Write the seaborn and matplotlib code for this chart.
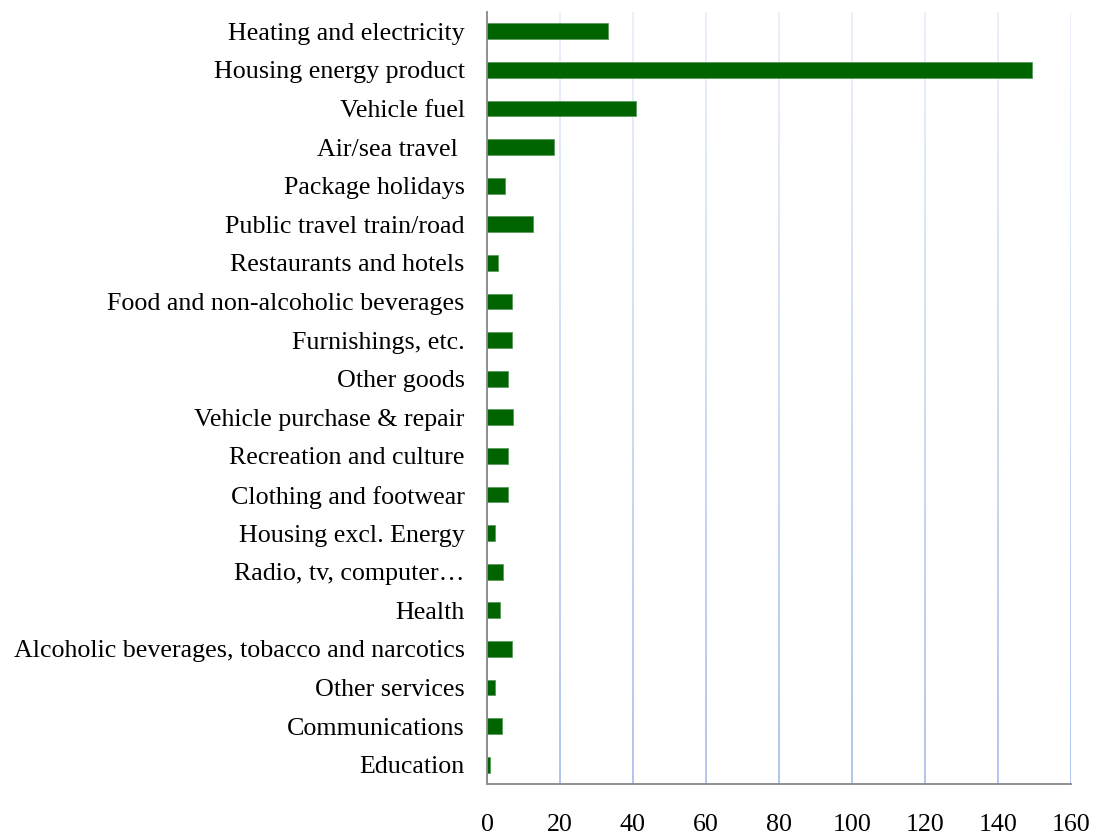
import matplotlib
matplotlib.use("Agg")
import matplotlib.pyplot as plt
import seaborn as sns
import pandas as pd
import numpy as np

categories = [
    "Heating and electricity",
    "Housing energy product",
    "Vehicle fuel",
    "Air/sea travel ",
    "Package holidays",
    "Public travel train/road",
    "Restaurants and hotels",
    "Food and non-alcoholic beverages",
    "Furnishings, etc.",
    "Other goods",
    "Vehicle purchase & repair",
    "Recreation and culture",
    "Clothing and footwear",
    "Housing excl. Energy",
    "Radio, tv, computer\u2026",
    "Health",
    "Alcoholic beverages, tobacco and narcotics",
    "Other services",
    "Communications",
    "Education",
]
values = [33.2, 149.3, 40.8, 18.4, 4.8, 12.5, 3.1, 6.7, 6.7, 5.8,
          7.1, 5.8, 5.8, 2.2, 4.4, 3.6, 6.7, 2.2, 4.0, 0.8]
xticks = [0, 20, 40, 60, 80, 100, 120, 140, 160]

sns.set_style("white")
plt.rcParams['font.family'] = ['Liberation Serif', 'DejaVu Serif']

df = pd.DataFrame({"category": categories, "value": values})

fig = plt.figure(figsize=(10.97, 8.36), dpi=100)
ax = fig.add_axes([0.444, 0.0622, 0.532, 0.9234])

sns.barplot(data=df, y="category", x="value", orient="h", color="#006400",
            width=0.41, ax=ax, edgecolor="#5a9a5a", linewidth=0.6, saturation=1,
            zorder=3)

ax.set_xticks(xticks)
ax.set_xticklabels([str(t) for t in xticks])
ax.set_xlabel("")
ax.set_ylabel("")

# vertical gridlines, fading toward the top
ax.grid(axis="x", color="#a9c2ee", linewidth=1.3)
ax.grid(axis="y", visible=False)
ax.set_axisbelow(True)
fade = np.zeros((256, 1, 4))
fade[..., :3] = 1.0
fade[:, 0, 3] = np.linspace(0.75, 0.0, 256)
ax.imshow(fade, extent=[0, 1, 0, 1], transform=ax.transAxes, origin="upper",
          aspect="auto", zorder=0.8, interpolation="bilinear")
ax.set_xlim(0, 160)
ax.set_ylim(len(categories) - 0.5, -0.5)

for s in ["top", "right"]:
    ax.spines[s].set_visible(False)
for s in ["left", "bottom"]:
    ax.spines[s].set_color("#888888")
    ax.spines[s].set_linewidth(1.3)
    ax.spines[s].set_zorder(4)

ax.set_yticks(np.arange(-0.5, len(categories) + 0.5, 1.0), minor=True)
ax.tick_params(axis="y", which="major", length=0, pad=16, labelsize=18.7, colors="black")
ax.tick_params(axis="y", which="minor", length=6, width=1.3, color="#888888", direction="out")
ax.tick_params(axis="x", which="major", length=6.5, width=1.3, color="#888888", direction="out",
               pad=15, labelsize=18.7, labelcolor="black")

fig.savefig("out.png", dpi=100)
